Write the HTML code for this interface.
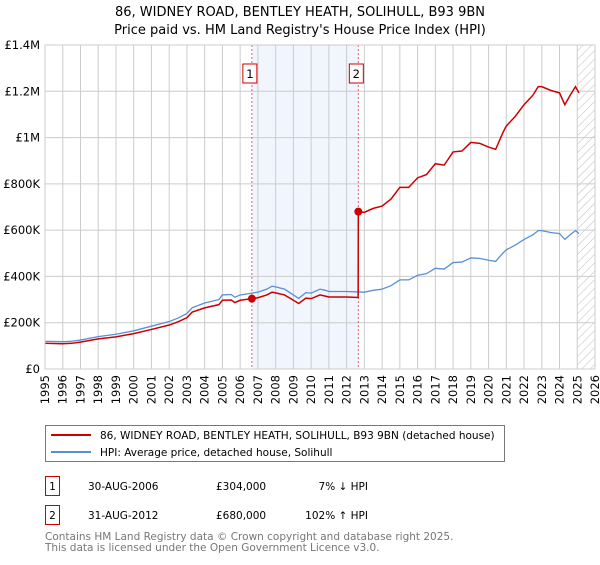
<!DOCTYPE html>
<html><head><meta charset="utf-8"><style>
body{margin:0;background:#fff;font-family:"Liberation Sans","DejaVu Sans",sans-serif;}
svg text{font-family:"DejaVu Sans","Liberation Sans",sans-serif;}
</style></head><body>
<svg id="c" width="600" height="560" viewBox="0 0 600 560" xmlns="http://www.w3.org/2000/svg">
<defs><pattern id="hatch" width="6" height="6" patternUnits="userSpaceOnUse" patternTransform="rotate(45)"><line x1="0" y1="0" x2="0" y2="6" stroke="#bbb" stroke-width="1"/></pattern></defs>
<text x="300" y="16" text-anchor="middle" font-size="13" fill="#000">86, WIDNEY ROAD, BENTLEY HEATH, SOLIHULL, B93 9BN</text>
<text x="300" y="34" text-anchor="middle" font-size="13" fill="#000">Price paid vs. HM Land Registry's House Price Index (HPI)</text>
<g id="grid"></g><g id="marks"></g>
<g>
<rect x="45.5" y="425.5" width="459" height="36" fill="#fff" stroke="#777"/>
<line x1="51" y1="435" x2="91" y2="435" stroke="#cc0000" stroke-width="2"/>
<text x="100" y="439" font-size="10.5">86, WIDNEY ROAD, BENTLEY HEATH, SOLIHULL, B93 9BN (detached house)</text>
<line x1="51" y1="452" x2="91" y2="452" stroke="#5b8fd4" stroke-width="2"/>
<text x="100" y="456" font-size="10.5">HPI: Average price, detached house, Solihull</text>
</g>
<g font-size="10.5">
<rect x="45.5" y="476.5" width="14" height="19" fill="#fff" stroke="#cc0000"/><text x="52.5" y="490" text-anchor="middle">1</text>
<text x="88" y="490">30-AUG-2006</text><text x="216" y="490">£304,000</text><text x="368" y="490" text-anchor="end">7% ↓ HPI</text>
<rect x="45.5" y="505.5" width="14" height="19" fill="#fff" stroke="#cc0000"/><text x="52.5" y="519" text-anchor="middle">2</text>
<text x="88" y="519">31-AUG-2012</text><text x="216" y="519">£680,000</text><text x="368" y="519" text-anchor="end">102% ↑ HPI</text>
</g>
<text x="45" y="540" font-size="10.5" fill="#777">Contains HM Land Registry data © Crown copyright and database right 2025.</text>
<text x="45" y="551" font-size="10.5" fill="#777">This data is licensed under the Open Government Licence v3.0.</text>
</svg>
<script>
const years=[1995,1996,1997,1998,1999,2000,2001,2002,2003,2004,2005,2006,2007,2008,2009,2010,2011,2012,2013,2014,2015,2016,2017,2018,2019,2020,2021,2022,2023,2024,2025,2026];
const yTicks=[0,200000,400000,600000,800000,1000000,1200000,1400000];
const yTickLabels=["£0","£200K","£400K","£600K","£800K","£1M","£1.2M","£1.4M"];
const hpiDates=[1995,1996,1996.5,1997,1998,1999,2000,2001,2002,2002.5,2003,2003.3,2004,2004.8,2005,2005.5,2005.7,2006,2006.66,2007,2007.5,2007.8,2008,2008.5,2009,2009.3,2009.7,2010,2010.5,2010.8,2011,2012,2012.66,2013,2013.5,2014,2014.5,2015,2015.5,2016,2016.5,2017,2017.5,2018,2018.5,2019,2019.5,2020,2020.4,2020.8,2021,2021.5,2022,2022.5,2022.8,2023,2023.5,2024,2024.3,2024.6,2024.9,2025.1];
const hpiValues=[120,118,120,125,140,150,165,185,205,220,240,265,285,300,320,322,310,320,328,332,345,358,355,345,320,305,330,328,345,340,335,335,333,332,340,345,360,385,385,405,412,435,432,460,462,480,478,470,465,500,515,535,560,580,598,598,590,585,560,580,598,585];
const propDates=[1995,1996,1996.5,1997,1998,1999,2000,2001,2002,2002.5,2003,2003.3,2004,2004.8,2005,2005.5,2005.7,2006,2006.66,2007,2007.5,2007.8,2008,2008.5,2009,2009.3,2009.7,2010,2010.5,2010.8,2011,2012,2012.65,2012.66,2013,2013.5,2014,2014.5,2015,2015.5,2016,2016.5,2017,2017.5,2018,2018.5,2019,2019.5,2020,2020.4,2020.8,2021,2021.5,2022,2022.5,2022.8,2023,2023.5,2024,2024.3,2024.6,2024.9,2025.1];
const propValues=[111,109,111,116,130,139,153,171,190,204,222,246,264,278,297,298,287,297,304,308,320,332,329,320,297,283,306,304,320,315,311,311,309,680,677,694,704,734,785,785,826,840,887,881,938,942,979,975,959,949,1020,1050,1091,1142,1183,1220,1220,1204,1193,1142,1183,1220,1193];
const saleDates=[2006.66,2012.66];
const salePrices=[304000,680000];
const saleLabels=["1","2"];

const X0=45,X1=595,Y0=369,Y1=45;
const xs=t=>X0+(t-1995)/(2026-1995)*(X1-X0);
const ys=v=>Y0-v/1400000*(Y0-Y1);
const NS="http://www.w3.org/2000/svg";
function mk(tag,attrs,parent){const e=document.createElementNS(NS,tag);for(const k in attrs)e.setAttribute(k,attrs[k]);parent.appendChild(e);return e;}
const g=document.getElementById('grid'),m=document.getElementById('marks');
const sh=mk('rect',{x:xs(saleDates[0]),y:Y1,width:xs(saleDates[1])-xs(saleDates[0]),height:Y0-Y1,fill:'#eef3fc',opacity:0.8},g);


const ht=mk('rect',{x:xs(2025.0),y:Y1,width:X1-xs(2025.0),height:Y0-Y1,fill:'url(#hatch)'},g);


years.forEach(yr=>{
  const x=xs(yr);
  const l=mk('line',{x1:x,x2:x,y1:Y1,y2:Y0,stroke:'#ccc','stroke-width':1},g);
  
  
  const t=mk('text',{x:0,y:0,'font-size':11.5,'text-anchor':'end',transform:`translate(${x+4},${Y0+6}) rotate(-90)`},g);
  t.textContent=yr;
  
  
});
yTicks.forEach((v,i)=>{
  const y=ys(v);
  const l=mk('line',{x1:X0,x2:X1,y1:y,y2:y,stroke:'#ccc','stroke-width':1},g);
  
  
  const t=mk('text',{x:40,y:y+4,'font-size':11.5,'text-anchor':'end'},g);
  t.textContent=yTickLabels[i];
  
  
});
saleDates.forEach((d,i)=>{
  const x=xs(d);
  const l=mk('line',{x1:x,x2:x,y1:Y1,y2:Y0,stroke:'#e06060','stroke-width':1,'stroke-dasharray':'2,2'},m);
  
  
});
const hp=mk('polyline',{points:hpiDates.map((d,i)=>xs(d)+','+ys(hpiValues[i]*1000)).join(' '),fill:'none',stroke:'#5b8fd4','stroke-width':1.3},m);


const pp=mk('polyline',{points:propDates.map((d,i)=>xs(d)+','+ys(propValues[i]*1000)).join(' '),fill:'none',stroke:'#cc0000','stroke-width':1.5},m);


saleDates.forEach((d,i)=>{
  const x=xs(d),y=ys(salePrices[i]);
  const p=mk('circle',{cx:x,cy:y,r:4,fill:'#cc0000'},m);
  
  
  const b=mk('rect',{x:x-9,y:64,width:14,height:19,fill:'#fff',stroke:'#cc0000'},m);
  
  
  const t=mk('text',{x:x-2,y:78,'font-size':11.5,'text-anchor':'middle'},m);
  t.textContent=saleLabels[i];
  
  
});
const ax=mk('rect',{x:X0,y:Y1,width:X1-X0,height:Y0-Y1,fill:'none',stroke:'#ccc'},m);


</script>
</body></html>
